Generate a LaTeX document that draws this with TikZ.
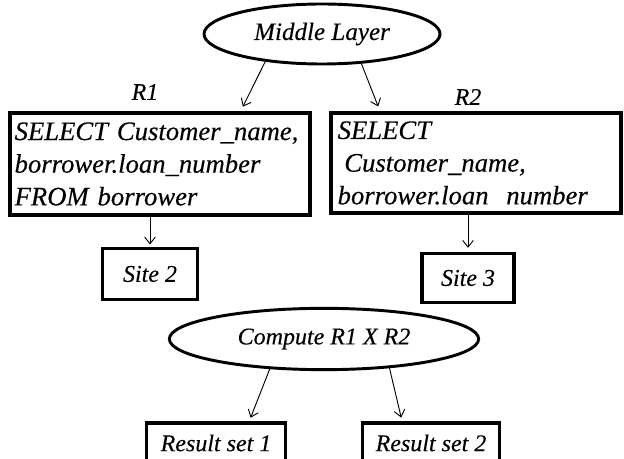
\documentclass[tikz,border=0pt]{standalone}
\usepackage{fontspec}
\setmainfont{Liberation Serif}[ItalicFeatures={FakeBold=0.25}]
\usetikzlibrary{arrows.meta,shapes.geometric,calc}
\begin{document}
\begin{tikzpicture}[x=0.75pt,y=-0.75pt,
  every node/.style={font=\itshape\fontsize{18}{24}\selectfont},
  qtext/.style={font=\itshape\fontsize{20}{24.5}\selectfont,
    execute at begin node={\hyphenpenalty=10000\exhyphenpenalty=10000}},
  box/.style={draw,line width=2.3pt,inner sep=0pt},
  oval/.style={draw,ellipse,line width=2.2pt,inner sep=0pt},
  arr/.style={draw,line width=0.7pt,-{Straight Barb[length=5pt,width=8pt]}},
]
\clip (0,0) rectangle (624,459);
\fill[white] (0,0) rectangle (624,459);
% top ellipse
\node[oval,minimum width=177pt,minimum height=45pt,font=\itshape\fontsize{18.8}{24}\selectfont] (ml) at (322,34) {Middle Layer};
\node (r1) at (145,92) {R1};
\node (r2) at (468,97) {R2};
% query boxes
\node[box,qtext,text width=218pt,inner xsep=3.5pt,align=left,minimum height=76.5pt] (lb) at (160,164)
  {SELECT Customer\_name,\\ borrower.loan\_number\\ FROM borrower};
\node[box,qtext,text width=207.5pt,inner xsep=5pt,align=left,minimum height=75pt] (rb) at (476,163)
  {SELECT\\ \hspace*{0.25em}Customer\_name,\\ borrower.loan\ \ number};
% sites
\node[box,minimum width=71pt,minimum height=38pt] (s2) at (150,274) {Site 2};
\node[box,minimum width=69pt,minimum height=37pt] (s3) at (468,278) {Site 3};
% compute ellipse
\node[oval,minimum width=232pt,minimum height=46pt] (cp) at (324,339) {Compute R1 X R2};
% result boxes
\node[box,minimum width=104pt,minimum height=30pt] (rs1) at (216,443) {Result set 1};
\node[box,minimum width=103pt,minimum height=30pt] (rs2) at (431,443) {Result set 2};
% connectors
\draw[arr,shorten >=4pt] (ml.206) -- ([xshift=174pt]lb.north west);
\draw[arr,shorten >=4pt] (ml.323) -- ([xshift=38pt]rb.north west);
\draw[arr,shorten >=2pt] (s2.north |- lb.south) -- (s2.north);
\draw[arr,shorten >=3pt] (s3.north |- rb.south) -- (s3.north);
\draw[arr,shorten >=3pt] (cp.209) -- ([xshift=78pt]rs1.north west);
\draw[arr,shorten >=3pt] (cp.336) -- ([xshift=31pt]rs2.north west);
\end{tikzpicture}
\end{document}
